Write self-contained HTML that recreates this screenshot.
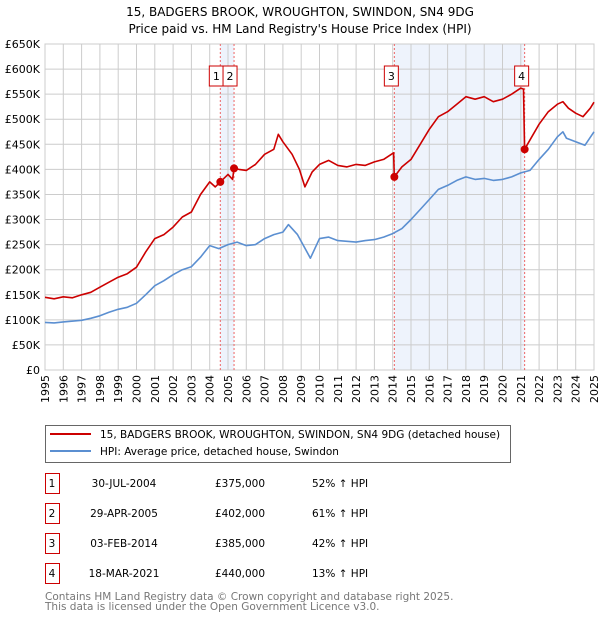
<!DOCTYPE html>
<html><head><meta charset="utf-8"><style>
body{margin:0;background:#fff;font-family:"DejaVu Sans","Liberation Sans",sans-serif;}
svg text{font-family:"DejaVu Sans","Liberation Sans",sans-serif;}
</style></head><body>
<svg id="c" width="600" height="620" xmlns="http://www.w3.org/2000/svg">
<text x="300" y="16" text-anchor="middle" font-size="12">15, BADGERS BROOK, WROUGHTON, SWINDON, SN4 9DG</text>
<text x="300" y="33" text-anchor="middle" font-size="12">Price paid vs. HM Land Registry's House Price Index (HPI)</text>
<g id="plot"></g>
<g>
<rect x="45.5" y="425.5" width="465" height="37" fill="#fff" stroke="#666"/>
<line x1="50" y1="434" x2="91" y2="434" stroke="#cc0000" stroke-width="2"/>
<text x="100" y="438" font-size="10.5">15, BADGERS BROOK, WROUGHTON, SWINDON, SN4 9DG (detached house)</text>
<line x1="50" y1="451" x2="91" y2="451" stroke="#5b8fd1" stroke-width="2"/>
<text x="100" y="455" font-size="10.5">HPI: Average price, detached house, Swindon</text>
</g>
<g id="table" font-size="10.5"></g>
<text x="45" y="600" font-size="10.5" fill="#777">Contains HM Land Registry data © Crown copyright and database right 2025.</text>
<text x="45" y="610" font-size="10.5" fill="#777">This data is licensed under the Open Government Licence v3.0.</text>
</svg>
<script>
const hpiYears=[1995,1995.5,1996,1997,1997.5,1998,1998.5,1999,1999.5,2000,2000.5,2001,2001.5,2002,2002.5,2003,2003.5,2004,2004.5,2005,2005.5,2006,2006.5,2007,2007.5,2008,2008.3,2008.8,2009.5,2010,2010.5,2011,2012,2012.5,2013,2013.5,2014,2014.5,2015,2015.5,2016,2016.5,2017,2017.5,2018,2018.5,2019,2019.5,2020,2020.5,2021,2021.5,2022,2022.5,2023,2023.3,2023.5,2024,2024.5,2025];
const hpiValues=[95,94,96,99,103,108,115,121,125,133,150,168,178,190,200,206,225,248,242,250,255,248,250,262,270,275,290,270,223,262,265,258,255,258,260,265,272,282,300,320,340,360,368,378,385,380,382,378,380,385,393,398,420,440,465,475,462,455,448,475];
const redYears=[1995,1995.5,1996,1996.5,1997,1997.5,1998,1998.5,1999,1999.5,2000,2000.5,2001,2001.5,2002,2002.5,2003,2003.5,2004,2004.3,2004.58,2005,2005.25,2005.33,2005.6,2006,2006.5,2007,2007.5,2007.75,2008,2008.5,2008.9,2009.2,2009.6,2010,2010.5,2011,2011.5,2012,2012.5,2013,2013.5,2014.05,2014.09,2014.5,2015,2015.5,2016,2016.5,2017,2017.5,2018,2018.5,2019,2019.5,2020,2020.5,2021,2021.15,2021.21,2021.6,2022,2022.5,2023,2023.3,2023.6,2024,2024.4,2024.8,2025];
const redValues=[145,142,146,144,150,155,165,175,185,192,205,235,262,270,285,305,315,350,375,365,375,390,380,402,400,398,410,430,440,470,455,430,400,365,395,410,418,408,405,410,408,415,420,433,385,405,420,450,480,505,515,530,545,540,545,535,540,550,562,560,440,465,490,515,530,535,522,512,505,522,534];
const saleYears=[2004.58,2005.33,2014.09,2021.21];
const saleValues=[375,402,385,440];
const saleLabels=["1","2","3","4"];
const saleDates=["30-JUL-2004","29-APR-2005","03-FEB-2014","18-MAR-2021"];
const salePrices=["£375,000","£402,000","£385,000","£440,000"];
const saleHpi=["52% ↑ HPI","61% ↑ HPI","42% ↑ HPI","13% ↑ HPI"];
const yTicks=[0,50,100,150,200,250,300,350,400,450,500,550,600,650];
const yTickLabels=["£0","£50K","£100K","£150K","£200K","£250K","£300K","£350K","£400K","£450K","£500K","£550K","£600K","£650K"];
const xTicks=[1995,1996,1997,1998,1999,2000,2001,2002,2003,2004,2005,2006,2007,2008,2009,2010,2011,2012,2013,2014,2015,2016,2017,2018,2019,2020,2021,2022,2023,2024,2025];

const NS="http://www.w3.org/2000/svg";
const X0=45,X1=594,Y0=370,Y1=44;
const xs=y=>X0+(y-1995)/30*(X1-X0);
const ys=v=>Y0-v/650*(Y0-Y1);
const plot=document.getElementById('plot');
function mk(tag,attrs,parent){const e=document.createElementNS(NS,tag);for(const k in attrs)e.setAttribute(k,attrs[k]);(parent||plot).appendChild(e);return e;}
for(const [a,b] of [[0,1],[2,3]]){
 const r=mk('rect',{x:xs(saleYears[a]),y:Y1,width:xs(saleYears[b])-xs(saleYears[a]),height:Y0-Y1,fill:'#eef3fc'});
 
 
}
yTicks.forEach((t,i)=>{
 const l=mk('line',{x1:X0,x2:X1,y1:ys(t),y2:ys(t),stroke:'#ccc','stroke-width':1});
 
 
 const tx=mk('text',{x:40,y:ys(t)+4,'text-anchor':'end','font-size':11});
 tx.textContent=yTickLabels[i];
 
 
});
xTicks.forEach(t=>{
 const l=mk('line',{x1:xs(t),x2:xs(t),y1:Y1,y2:Y0,stroke:'#ccc','stroke-width':1});
 
 
 const tx=mk('text',{x:0,y:0,'text-anchor':'end','font-size':11,transform:`translate(${xs(t)+4},375) rotate(-90)`});
 tx.textContent=t;
 
 
});
mk('rect',{x:X0,y:Y1,width:X1-X0,height:Y0-Y1,fill:'none',stroke:'#ccc'});
saleYears.forEach(s=>{
 const l=mk('line',{x1:xs(s),x2:xs(s),y1:Y1,y2:Y0,stroke:'#e66','stroke-width':1,'stroke-dasharray':'2,2'});
 
 
});
function line(xa,va,col,name){
 const d=xa.map((x,i)=>(i?'L':'M')+xs(x).toFixed(1)+','+ys(va[i]).toFixed(1)).join('');
 const p=mk('path',{d:d,fill:'none',stroke:col,'stroke-width':1.6,'stroke-linejoin':'round'});
 
 
}
line(hpiYears,hpiValues,'#5b8fd1','hpi-line');
line(redYears,redValues,'#cc0000','property-price-line');
saleYears.forEach((s,i)=>{
 const c=mk('circle',{cx:xs(s),cy:ys(saleValues[i]),r:4,fill:'#cc0000'});
 
 
});
const boxOff=[-4,-4,-3,-3];
saleLabels.forEach((lab,i)=>{
 const cx=xs(saleYears[i])+boxOff[i];
 const g=mk('g',{});
 
 
 mk('rect',{x:cx-7,y:66,width:14,height:20,fill:'#fff',stroke:'#cc0000'},g);
 const t=mk('text',{x:cx,y:80,'text-anchor':'middle','font-size':11},g);
 t.textContent=lab;
});
const tb=document.getElementById('table');
saleLabels.forEach((lab,i)=>{
 const y=483+i*30;
 const g=mk('g',{},tb);
 
 
 mk('rect',{x:45.5,y:y-9.5,width:14,height:20,fill:'#fff',stroke:'#cc0000'},g);
 const cells=[[52,lab,'middle'],[124,saleDates[i],'middle'],[240,salePrices[i],'middle'],[312,saleHpi[i],'start']];
 cells.forEach(c=>{const t=mk('text',{x:c[0],y:y+4,'text-anchor':c[2],'font-size':10.5},g);t.textContent=c[1];});
});
</script>
</body></html>
